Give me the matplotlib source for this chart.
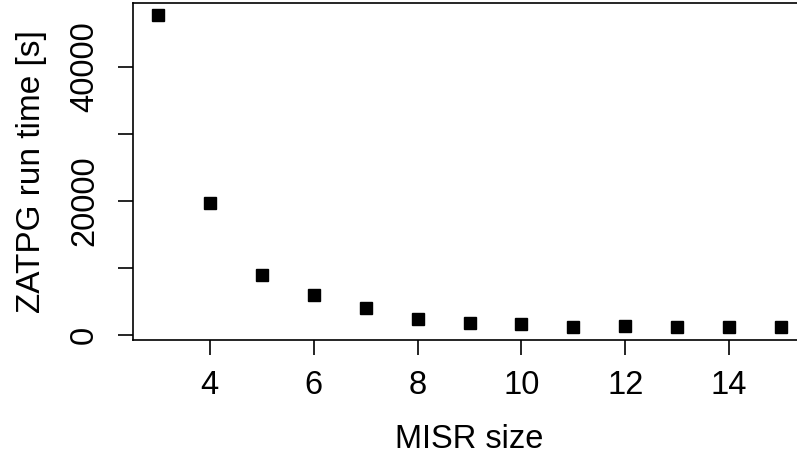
import matplotlib
matplotlib.use("Agg")
import matplotlib.pyplot as plt
import numpy as np

# MISR size vs ZATPG run time
misr_size = [3, 4, 5, 6, 7, 8, 9, 10, 11, 12, 13, 14, 15]
run_time = [47680, 19730, 8970, 5980, 4080, 2390, 1790, 1690, 1200, 1390, 1240, 1240, 1200]

x_ticks = [4, 6, 8, 10, 12, 14]
y_ticks = [0, 10000, 20000, 30000, 40000]
y_tick_labels = ["0", "", "20000", "", "40000"]

plt.rcParams['font.family'] = ['Liberation Sans', 'DejaVu Sans']

fig = plt.figure(figsize=(7.97, 4.57), dpi=100)
ax = fig.add_axes([133 / 797, (457 - 339.5) / 457, (806 - 133) / 797, 336.5 / 457])

ax.plot(misr_size, run_time, linestyle='none', marker='s', markersize=8.6, color='black')

# R style 4% range extension
xr = max(misr_size) - min(misr_size)
ax.set_xlim(min(misr_size) - 0.04 * xr, max(misr_size) + 0.04 * xr)
yr = max(run_time) - min(run_time)
ax.set_ylim(min(run_time) - 0.04 * yr, max(run_time) + 0.04 * yr)

ax.set_xticks(x_ticks)
ax.set_yticks(y_ticks)
ax.set_yticklabels(y_tick_labels, rotation=90, va='center')
ax.tick_params(axis='both', labelsize=23.5, length=10.8, width=1.2, direction='out')
ax.tick_params(axis='y', pad=13)
ax.tick_params(axis='x', pad=11)

for s in ax.spines.values():
    s.set_linewidth(1.2)

ax.set_xlabel('MISR size', fontsize=23.5, labelpad=17)
ax.set_ylabel('ZATPG run time [s]', fontsize=24, labelpad=16)

fig.savefig('out.png', dpi=100)
